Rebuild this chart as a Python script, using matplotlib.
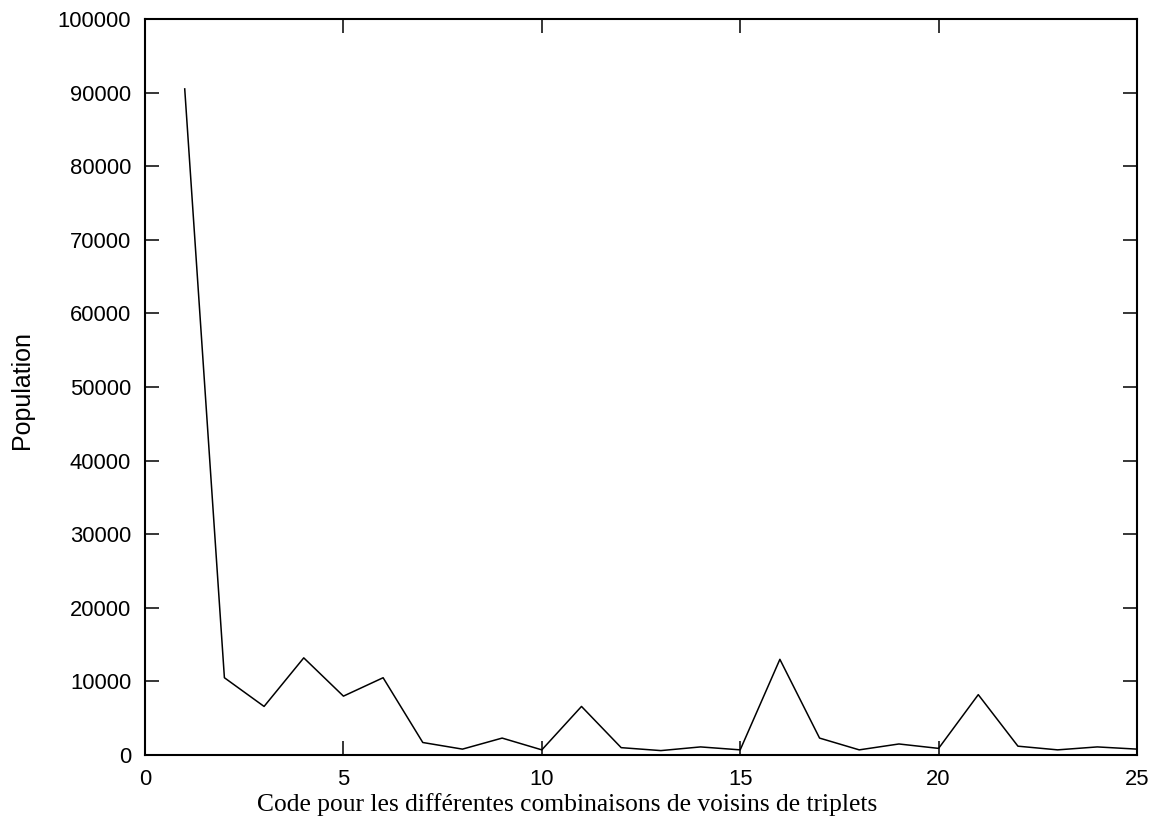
import matplotlib
matplotlib.use("Agg")
import matplotlib.pyplot as plt

# population par code de combinaison de voisins
codes = list(range(1, 26))
population = [90500, 10500, 6600, 13200, 8000, 10500, 1700, 800, 2300, 700,
              6600, 1000, 600, 1100, 700, 13000, 2300, 700, 1500, 900,
              8200, 1200, 700, 1100, 800]

xticks = [0, 5, 10, 15, 20, 25]
yticks = list(range(0, 100001, 10000))


def plot_population(ax):
    ax.plot(codes, population, color="k", lw=1.1)

    ax.set_xlim(0, 25)
    ax.set_ylim(0, 100000)
    ax.set_xticks(xticks)
    ax.set_yticks(yticks)

    ax.tick_params(direction="in", length=10, width=1.1,
                   top=True, right=True, labelsize=15.8, pad=10,
                   labelfontfamily="Liberation Sans")
    for sp in ax.spines.values():
        sp.set_linewidth(1.5)

    ax.set_xlabel("Code pour les différentes combinaisons de voisins de triplets",
                  family="Liberation Serif", fontsize=18.4)
    ax.xaxis.set_label_coords(0.426, -0.051)
    ax.set_ylabel("Population", family="Liberation Sans", fontsize=18)
    ax.yaxis.set_label_coords(-0.124, 0.496)
    ax.yaxis.label.set_va("center")


fig = plt.figure(figsize=(11.53, 8.18), dpi=100)
ax = fig.add_axes([0.1258, 0.077, 0.9861 - 0.1258, 0.9768 - 0.077])
plot_population(ax)

fig.savefig("out.png", dpi=100)
